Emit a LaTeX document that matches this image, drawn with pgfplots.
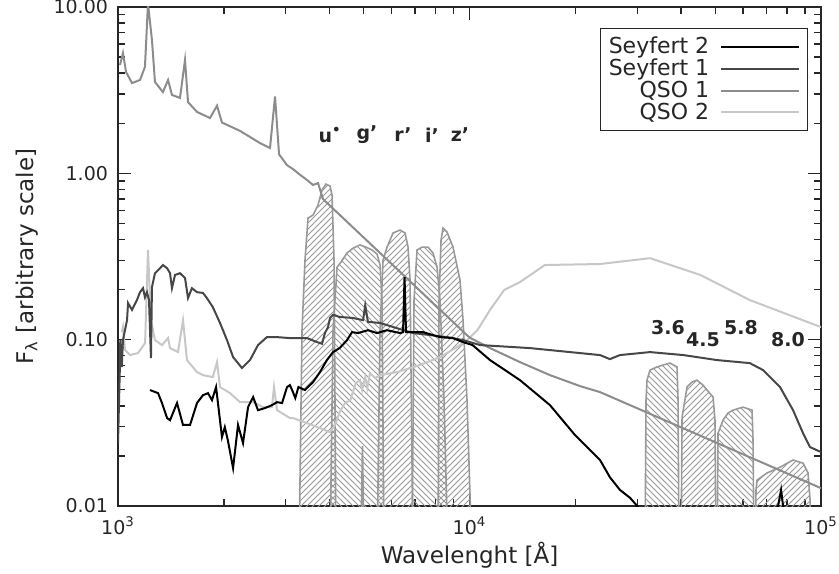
\documentclass[border=0pt]{standalone}
\usepackage{pgfplots}
\pgfplotsset{compat=1.18}
\usetikzlibrary{patterns}
\usepackage{fontspec}
\setmainfont{DejaVu Sans}
\begin{document}
\begin{tikzpicture}
\begin{axis}[
  scale only axis, width=351.5pt, height=249.5pt,
  xmode=log, ymode=log,
  xmin=1000, xmax=100000, ymin=0.01, ymax=10,
  axis line style={black!85, line width=0.8pt},
  tick style={black!85, line width=0.7pt},
  tick align=inside,
  major tick length=6.5pt, minor tick length=3.5pt,
  xtick={1000,10000,100000},
  xticklabels={10\textsuperscript{3},10\textsuperscript{4},10\textsuperscript{5}},
  ytick={0.01,0.1,1,10},
  yticklabels={0.01,0.10,1.00,10.00},
  ticklabel style={font=\fontsize{9.5}{11}\selectfont, text=black!85},
  xticklabel style={yshift=-2pt},
  yticklabel style={xshift=-1.5pt},
  xlabel={Wavelenght [Å]},
  ylabel={F\textsubscript{λ} [arbitrary scale]},
  label style={font=\fontsize{11.5}{13}\selectfont, text=black!85},
  xlabel style={at={(axis description cs:0.5,-0.098)}, anchor=center},
  ylabel style={at={(axis description cs:-0.1294,0.5)}, anchor=center},
  legend style={at={(0.9815,0.958)}, anchor=north east, draw=black!85, line width=0.6pt,
    fill=white, font=\fontsize{11}{12}\selectfont, text=black!85, row sep=0pt, column sep=5pt,
    inner sep=3.5pt, nodes={inner sep=0.6pt}},
  legend cell align=right,
  legend plot pos=right,
  legend image code/.code={\draw[#1] (0pt,0pt) -- (39pt,0pt);},
  reverse legend,
]
% ---- SDSS filter bands ----
\addplot[forget plot, draw=black!40, line width=0.8pt, pattern=north east lines, pattern color=black!40] coordinates {
(3273,0.005)(3338,0.114)(3404,0.301)(3472,0.538)(3588,0.561)(3707,0.645)(3805,0.794)(3906,0.862)(4010,0.839)(4063,0.741)(4117,0.301)(4171,0.005)};
\addplot[forget plot, draw=black!40, line width=0.8pt, pattern=north west lines, pattern color=black!40] coordinates {
(4010,0.005)(4090,0.114)(4199,0.273)(4310,0.293)(4483,0.332)(4663,0.355)(4882,0.371)(5078,0.360)(5281,0.346)(5457,0.327)(5565,0.281)(5638,0.173)(5713,0.005)};
\addplot[forget plot, draw=black!40, line width=0.8pt] coordinates {
(4900,0.005)(4960,0.0230)(5020,0.005)};
\addplot[forget plot, draw=black!40, line width=0.8pt, pattern=north east lines, pattern color=black!40] coordinates {
(5457,0.005)(5565,0.114)(5676,0.301)(5826,0.360)(6060,0.438)(6344,0.456)(6556,0.438)(6686,0.360)(6774,0.228)(6908,0.005)};
\addplot[forget plot, draw=black!40, line width=0.8pt, pattern=north west lines, pattern color=black!40] coordinates {
(6863,0.005)(6953,0.173)(7091,0.346)(7327,0.360)(7620,0.360)(7873,0.332)(8083,0.273)(8244,0.173)(8463,0.0433)(8687,0.005)};
\addplot[forget plot, draw=black!40, line width=0.8pt, pattern=north east lines, pattern color=black!40] coordinates {
(8136,0.005)(8190,0.173)(8298,0.397)(8407,0.469)(8630,0.444)(8976,0.360)(9397,0.228)(9584,0.131)(9838,0.0433)(10160,0.005)};
% ---- IRAC bands ----
\addplot[forget plot, draw=black!40, line width=0.8pt, pattern=north west lines, pattern color=black!40] coordinates {
(31570,0.005)(31780,0.0433)(31990,0.0571)(32620,0.0657)(34150,0.0685)(35520,0.0704)(37190,0.0723)(38940,0.0685)(39200,0.0433)(39460,0.005)};
\addplot[forget plot, draw=black!40, line width=0.8pt, pattern=north east lines, pattern color=black!40] coordinates {
(39980,0.005)(40240,0.0342)(41580,0.0519)(42950,0.0556)(44380,0.0571)(46160,0.0533)(47390,0.0498)(49290,0.0452)(49930,0.0328)(50260,0.005)};
\addplot[forget plot, draw=black!40, line width=0.8pt, pattern=north west lines, pattern color=black!40] coordinates {
(50590,0.005)(50930,0.0274)(52620,0.0328)(54380,0.0362)(56190,0.0377)(60000,0.0393)(63640,0.0377)(64060,0.0249)(64480,0.005)};
\addplot[forget plot, draw=black!40, line width=0.8pt, pattern=north east lines, pattern color=black!40] coordinates {
(64910,0.005)(65330,0.0125)(65760,0.0143)(70220,0.0158)(76450,0.0171)(83250,0.0189)(88890,0.0181)(91850,0.0158)(93060,0.0109)(93670,0.005)};
% ---- QSO 2 ----
\addplot[color=black!22, line width=1pt] coordinates {
(1026,0.111)(1033,0.119)(1047,0.0866)(1082,0.0808)(1140,0.0831)(1194,0.0954)(1217,0.346)(1241,0.131)(1274,0.0994)(1334,0.0928)(1388,0.1022)(1406,0.0890)(1481,0.0842)(1531,0.131)(1571,0.0754)(1678,0.0639)(1745,0.0612)(1861,0.0596)(1913,0.0733)(1951,0.0519)(2084,0.0477)(2224,0.0421)(2423,0.0421)(2586,0.0393)(2741,0.0393)(2778,0.0519)(2834,0.0377)(3084,0.0338)(3147,0.0338)(3450,0.0315)(3756,0.0294)(4010,0.0278)(4144,0.0307)(4271,0.0367)(4425,0.0416)(4582,0.0433)(4744,0.0548)(4882,0.0571)(4947,0.0498)(5050,0.0596)(5118,0.0512)(5211,0.0630)(5386,0.0588)(5565,0.0612)(6235,0.0639)(7226,0.0704)(8244,0.0786)(9220,0.0903)(9838,0.0994)(10530,0.114)(11437,0.151)(12550,0.199)(13921,0.222)(16380,0.281)(23510,0.285)(32620,0.309)(45350,0.245)(62710,0.173)(100000,0.119)};
\addlegendentry{QSO 2}
% ---- QSO 1 ----
\addplot[color=black!45, line width=1pt] coordinates {
(1013,4.48)(1033,5.29)(1054,4.07)(1096,3.49)(1155,3.64)(1193,4.36)(1217,10.5)(1249,6.33)(1274,3.54)(1342,3.08)(1388,3.64)(1424,2.96)(1501,2.84)(1551,4.80)(1582,2.68)(1678,2.34)(1827,2.15)(1913,2.55)(1976,2.02)(2224,1.80)(2535,1.52)(2707,1.42)(2797,2.90)(2872,1.30)(3026,1.12)(3147,1.06)(3295,0.98)(3450,0.912)(3588,0.851)(3707,0.874)(3831,0.700)(10000,0.103)(11437,0.0890)(13921,0.0733)(16942,0.0612)(20622,0.0526)(23510,0.0484)(100000,0.0128)};
\addlegendentry{QSO 1}
% ---- Seyfert 1 ----
\addplot[color=black!72, line width=1pt] coordinates {
(1000,0.0239)(1013,0.0723)(1015,0.0994)(1025,0.0685)(1033,0.0994)(1061,0.131)(1068,0.166)(1096,0.151)(1132,0.173)(1155,0.193)(1178,0.204)(1193,0.180)(1209,0.193)(1225,0.173)(1241,0.0775)(1249,0.207)(1274,0.251)(1317,0.269)(1342,0.281)(1379,0.269)(1406,0.251)(1424,0.204)(1453,0.245)(1501,0.251)(1551,0.235)(1582,0.178)(1623,0.204)(1678,0.193)(1745,0.191)(1790,0.178)(1861,0.157)(1951,0.126)(2042,0.0994)(2125,0.0786)(2253,0.0675)(2374,0.0754)(2502,0.0928)(2652,0.1036)(2834,0.1036)(3084,0.1022)(3450,0.1022)(3684,0.0967)(3805,0.0945)(3880,0.1096)(3957,0.119)(4010,0.135)(4090,0.141)(4271,0.137)(4663,0.135)(4980,0.131)(5050,0.161)(5141,0.128)(5565,0.126)(6235,0.117)(6908,0.1096)(7716,0.1066)(8630,0.1036)(9584,0.0994)(10720,0.0928)(14860,0.0890)(19320,0.0842)(23510,0.0808)(25080,0.0764)(26780,0.0808)(32620,0.0842)(40580,0.0808)(50590,0.0754)(62710,0.0723)(68360,0.0657)(76450,0.0519)(83250,0.0377)(88890,0.0274)(93060,0.0226)(100000,0.0211)};
\addlegendentry{Seyfert 1}
% ---- Seyfert 2 ----
\addplot[color=black, line width=1pt] coordinates {
(1233,0.0498)(1300,0.0477)(1334,0.0416)(1379,0.0338)(1406,0.0328)(1472,0.0416)(1531,0.0307)(1603,0.0307)(1678,0.0416)(1745,0.0464)(1803,0.0477)(1851,0.0433)(1901,0.0519)(1976,0.0260)(2013,0.0298)(2053,0.0249)(2125,0.0169)(2195,0.0307)(2268,0.0239)(2344,0.0393)(2423,0.0452)(2502,0.0377)(2619,0.0388)(2741,0.0404)(2834,0.0421)(2929,0.0416)(3026,0.0519)(3084,0.0533)(3128,0.0498)(3194,0.0446)(3261,0.0519)(3404,0.0498)(3588,0.0556)(3756,0.0639)(3929,0.0754)(4090,0.0842)(4271,0.0890)(4483,0.0994)(4632,0.111)(4820,0.1096)(5141,0.114)(5457,0.1096)(5826,0.114)(6344,0.1096)(6470,0.111)(6534,0.238)(6598,0.111)(7372,0.111)(8244,0.1036)(8976,0.1022)(9584,0.0967)(10200,0.0928)(11437,0.0754)(13921,0.0571)(16942,0.0404)(19960,0.0267)(23510,0.0189)(25080,0.0149)(26780,0.0125)(28620,0.0112)(30000,0.0100)(30620,0.0088)(74000,0.008)(77000,0.0125)(79000,0.008)(100000,0.008)};
\addlegendentry{Seyfert 2}
% ---- band labels ----
\begin{scope}[every node/.style={font=\fontsize{9.5}{11}\selectfont\bfseries, text=black!85}]
\node at (axis cs:4010,1.70) {u\textsuperscript{•}};
\node at (axis cs:5110,1.70) {g'};
\node at (axis cs:6470,1.70) {r'};
\node at (axis cs:7822,1.70) {i'};
\node at (axis cs:9397,1.70) {z'};
\node at (axis cs:36700,0.119) {3.6};
\node at (axis cs:46170,0.0995) {4.5};
\node at (axis cs:59220,0.119) {5.8};
\node at (axis cs:80550,0.0995) {8.0};
\end{scope}
\end{axis}
\pgfresetboundingbox
\path[use as bounding box] (-59pt,-33.5pt) rectangle (360.5pt,253pt);
\end{tikzpicture}
\end{document}
